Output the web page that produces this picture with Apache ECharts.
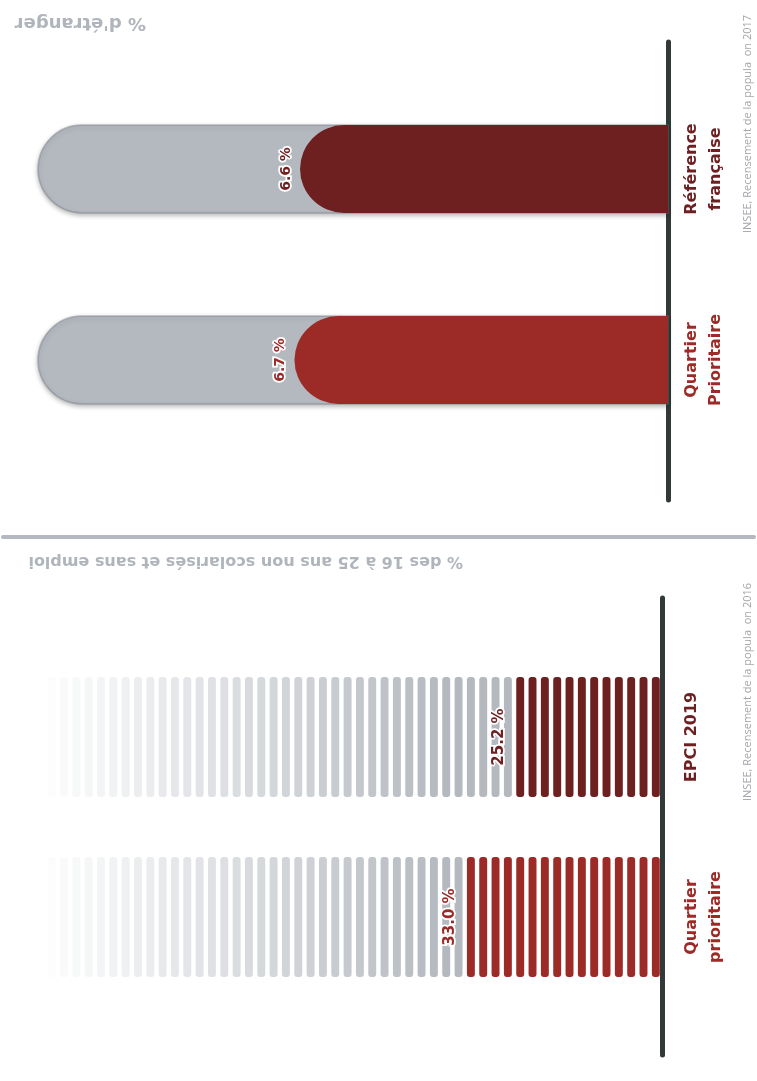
<!DOCTYPE html>
<html>
<head>
<meta charset="utf-8">
<script src="https://cdn.jsdelivr.net/npm/echarts@6/dist/echarts.min.js"></script>
<style>
  html, body { margin: 0; padding: 0; background: #ffffff; }
  #chart { width: 757px; height: 1081px; }
</style>
</head>
<body>
<div id="chart"></div>
<script>
// Panel 1: share of foreign nationals
const topCategories = ['Référence\nfrançaise', 'Quartier\nPrioritaire'];
const topValues = [6.6, 6.7];
const topScaleMax = 11.3;

// Panel 2: 16-25 year olds not in school and without a job
const bottomCategories = ['EPCI 2019', 'Quartier\nprioritaire'];
const bottomValues = [25.2, 33.0];
const segmentStep = 2;      // each stick stands for 2 %
const bottomScaleMax = 100;

const rowColors = ['#6e1f20', '#9c2b27'];

const topTitle = "% d'étranger";
const bottomTitle = '% des 16 à 25 ans non scolarisés et sans emploi';
const topSource = 'INSEE, Recensement de la popula  on 2017';
const bottomSource = 'INSEE, Recensement de la popula  on 2016';

const FONT = '"Open Sans", "DejaVu Sans", sans-serif';
const BOLD_FONT = '"DejaVu Sans", "Open Sans", sans-serif';
const AXIS_COLOR = '#323a39';
const GREY = [180, 185, 192];

const chart = echarts.init(document.getElementById('chart'), null, { renderer: 'canvas' });

function rowLabelRich() {
  const base = { fontFamily: BOLD_FONT, fontWeight: 'bold', fontSize: 16, lineHeight: 24, align: 'center' };
  return {
    r0: Object.assign({ color: rowColors[0] }, base),
    r1: Object.assign({ color: rowColors[1] }, base)
  };
}
function rowLabelFormatter(names) {
  return function (v) {
    const i = Math.round(v) - 1;
    if (i < 0 || i >= names.length) return '';
    return names[i].split('\n').map(function (s) { return '{r' + i + '|' + s + '}'; }).join('\n');
  };
}

function renderTop(params, api) {
  const v = api.value(0);
  const row = api.value(1);
  const idx = params.dataIndex;
  const zero = api.coord([0, row]);
  const far = api.coord([topScaleMax, row]);
  const tip = api.coord([v, row]);
  const h = api.size([0, 0.46])[1];
  const r = h / 2;
  const y0 = zero[1] - h / 2;
  return {
    type: 'group',
    children: [
      {
        type: 'rect',
        shape: { x: far[0], y: y0, width: zero[0] - far[0], height: h, r: [r, 0, 0, r] },
        style: {
          fill: 'rgb(' + GREY.join(',') + ')',
          stroke: 'rgba(120,125,132,0.45)', lineWidth: 1.5,
          shadowBlur: 5, shadowOffsetY: 2, shadowColor: 'rgba(0,0,0,0.3)'
        }
      },
      {
        type: 'rect',
        shape: { x: tip[0], y: y0, width: zero[0] - tip[0], height: h, r: [r, 0, 0, r] },
        style: { fill: rowColors[idx] }
      },
      {
        type: 'text',
        x: tip[0] - 14,
        y: zero[1],
        rotation: Math.PI / 2,
        style: {
          text: v.toFixed(1) + ' %',
          fill: rowColors[idx],
          stroke: '#ffffff', lineWidth: 3.5,
          font: 'bold 14px ' + BOLD_FONT,
          align: 'center', verticalAlign: 'middle'
        }
      }
    ]
  };
}

function renderBottom(params, api) {
  const v = api.value(0);
  const row = api.value(1);
  const idx = params.dataIndex;
  const center = api.coord([0, row]);
  const h = api.size([0, 0.667])[1];
  const y0 = center[1] - h / 2;
  const count = bottomScaleMax / segmentStep;
  const gap = 2.2;
  const children = [];
  for (let i = 0; i < count; i++) {
    const right = api.coord([i * segmentStep, row])[0] - gap;
    const left = api.coord([(i + 1) * segmentStep, row])[0] + gap;
    const filled = (i + 1) * segmentStep <= v;
    let fill;
    if (filled) {
      fill = rowColors[idx];
    } else {
      let a = 1 - (i - 17) / 32 * 0.96;
      a = Math.max(0.04, Math.min(1, a));
      fill = 'rgba(' + GREY.join(',') + ',' + a.toFixed(3) + ')';
    }
    children.push({
      type: 'rect',
      shape: { x: left, y: y0, width: right - left, height: h, r: 3 },
      style: { fill: fill }
    });
  }
  const at = api.coord([v, row]);
  children.push({
    type: 'text',
    x: at[0] - 8,
    y: center[1],
    rotation: Math.PI / 2,
    style: {
      text: v.toFixed(1) + ' %',
      fill: rowColors[idx],
      stroke: '#ffffff', lineWidth: 3.5,
      font: 'bold 15px ' + BOLD_FONT,
      align: 'center', verticalAlign: 'middle'
    }
  });
  return { type: 'group', children: children };
}

const option = {
  backgroundColor: '#ffffff',
  animation: false,
  grid: [
    { left: 38, right: 89, top: 42, bottom: 581 },
    { left: 45.5, right: 95, top: 598, bottom: 26 }
  ],
  xAxis: [
    { gridIndex: 0, type: 'value', inverse: true, min: 0, max: topScaleMax, show: false },
    { gridIndex: 1, type: 'value', inverse: true, min: 0, max: bottomScaleMax, show: false }
  ],
  yAxis: [
    {
      gridIndex: 0, type: 'value', inverse: true, position: 'right',
      min: 1 - 127 / 191, max: 2 + 140 / 191,
      axisLine: { show: true, lineStyle: { color: AXIS_COLOR, width: 5, cap: 'round' } },
      axisTick: { show: false }, splitLine: { show: false },
      axisLabel: {
        customValues: [1, 2], rotate: 90, margin: 12,
        formatter: rowLabelFormatter(topCategories), rich: rowLabelRich()
      }
    },
    {
      gridIndex: 1, type: 'value', inverse: true, position: 'right', offset: 6,
      min: 1 - 139 / 180, max: 2 + 138 / 180,
      axisLine: { show: true, lineStyle: { color: AXIS_COLOR, width: 5, cap: 'round' } },
      axisTick: { show: false }, splitLine: { show: false },
      axisLabel: {
        customValues: [1, 2], rotate: 90, margin: 12,
        formatter: rowLabelFormatter(bottomCategories), rich: rowLabelRich()
      }
    }
  ],
  series: [
    {
      type: 'custom', xAxisIndex: 0, yAxisIndex: 0,
      renderItem: renderTop,
      data: topValues.map(function (v, i) { return [v, i + 1]; })
    },
    {
      type: 'custom', xAxisIndex: 1, yAxisIndex: 1,
      renderItem: renderBottom,
      data: bottomValues.map(function (v, i) { return [v, i + 1]; })
    }
  ],
  graphic: [
    {
      type: 'text', x: 146, y: 23, rotation: Math.PI,
      style: { text: topTitle, fill: '#b0b5bc', font: 'bold 18px ' + BOLD_FONT, align: 'left', verticalAlign: 'middle' }
    },
    {
      type: 'text', x: 463, y: 561, rotation: Math.PI,
      style: { text: bottomTitle, fill: '#b0b5bc', font: 'bold 16px ' + BOLD_FONT, align: 'left', verticalAlign: 'middle' }
    },
    {
      type: 'text', x: 748, y: 233, rotation: Math.PI / 2,
      style: { text: topSource, fill: '#a3a7ab', font: '11px ' + FONT, align: 'left', verticalAlign: 'middle' }
    },
    {
      type: 'text', x: 748, y: 801, rotation: Math.PI / 2,
      style: { text: bottomSource, fill: '#a3a7ab', font: '11px ' + FONT, align: 'left', verticalAlign: 'middle' }
    },
    {
      type: 'line',
      shape: { x1: 3, y1: 537, x2: 754, y2: 537 },
      style: { stroke: '#b4b9c0', lineWidth: 4, lineCap: 'round' }
    }
  ]
};

chart.setOption(option);
</script>
</body>
</html>
